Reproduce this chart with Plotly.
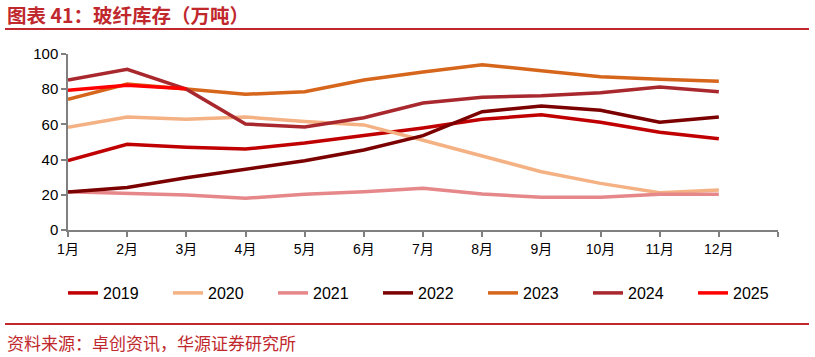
import plotly.graph_objects as go

months = ["1月", "2月", "3月", "4月", "5月", "6月", "7月", "8月", "9月", "10月", "11月", "12月"]
years = ["2019", "2020", "2021", "2022", "2023", "2024", "2025"]

v2019 = [39.4, 48.7, 47.0, 46.0, 49.4, 53.6, 58.0, 62.9, 65.5, 61.2, 55.5, 51.9]
v2020 = [58.3, 64.2, 62.9, 64.2, 61.7, 59.7, 51.0, 42.0, 33.1, 26.5, 21.2, 22.7]
v2021 = [21.8, 20.8, 19.9, 18.0, 20.3, 21.8, 23.7, 20.5, 18.6, 18.6, 20.3, 20.3]
v2022 = [21.6, 24.2, 29.7, 34.5, 39.4, 45.5, 53.6, 67.2, 70.5, 68.0, 61.2, 64.2]
v2023 = [74.2, 82.9, 80.1, 77.1, 78.6, 85.2, 89.8, 93.9, 90.5, 87.1, 85.6, 84.5]
v2024 = [85.2, 91.3, 80.0, 60.2, 58.5, 63.8, 72.2, 75.4, 76.3, 78.0, 81.3, 78.6]
v2025 = [79.4, 82.2, 80.3]

series = [v2019, v2020, v2021, v2022, v2023, v2024, v2025]
colors = ["#C00000", "#F4B183", "#E6878A", "#7B0000", "#D6661C", "#A8282E", "#FF0000"]

y_ticks = [0, 20, 40, 60, 80, 100]

W, H = 815, 357
L, R, T, B = 68, 778, 54, 230

def px(x):
    return (x - L) / (R - L)

def py(y):
    return (B - y) / (B - T)

fig = go.Figure()
for name, vals, c in zip(years, series, colors):
    xs = list(range(len(vals)))
    fig.add_trace(go.Scatter(x=xs, y=vals, name=name, mode="lines",
                             line=dict(color=c, width=3.5)))

font_family = "Liberation Sans, Arial, Noto Sans CJK SC, sans-serif"
red = "#C0282D"

fig.update_layout(
    width=W, height=H,
    margin=dict(l=L, r=W - R, t=T, b=H - B, autoexpand=False),
    paper_bgcolor="white", plot_bgcolor="white",
    font=dict(family=font_family, size=13, color="#000000"),
    showlegend=True,
    legend=dict(orientation="h", x=px(63), xanchor="left", y=py(293), yanchor="middle",
                font=dict(size=16, color="#000000"), entrywidth=60, entrywidthmode="pixels",
                bgcolor="rgba(0,0,0,0)", tracegroupgap=0),
    xaxis=dict(range=[0, 12], tickmode="array", tickvals=list(range(len(months) + 1)),
               ticktext=months + [""], showgrid=False, zeroline=False,
               showline=True, linecolor="#808080", linewidth=1.5,
               ticks="outside", ticklen=5, tickcolor="#808080", tickwidth=1.5,
               tickfont=dict(size=14, color="#000000")),
    yaxis=dict(range=[0, 100], tickmode="array", tickvals=y_ticks,
               showgrid=False, zeroline=False,
               showline=True, linecolor="#808080", linewidth=1.5,
               ticks="outside", ticklen=5, tickcolor="#808080", tickwidth=1.5,
               tickfont=dict(size=15, color="#000000")),
)

fig.add_annotation(text="<b>图表 41：玻纤库存（万吨）</b>", xref="paper", yref="paper",
                   x=px(5), y=py(15), xanchor="left", yanchor="middle", showarrow=False,
                   font=dict(family="Noto Sans CJK SC, sans-serif", size=19.5, color=red))
fig.add_annotation(text="资料来源：卓创资讯，华源证券研究所", xref="paper", yref="paper",
                   x=px(5), y=py(342), xanchor="left", yanchor="middle", showarrow=False,
                   font=dict(family="Noto Sans CJK SC, sans-serif", size=17, color=red))
fig.add_shape(type="line", xref="paper", yref="paper", x0=px(5), x1=px(809),
              y0=py(29), y1=py(29), line=dict(color=red, width=2))
fig.add_shape(type="line", xref="paper", yref="paper", x0=px(5), x1=px(809),
              y0=py(324), y1=py(324), line=dict(color=red, width=2))

fig.write_html("out.html", config={"displayModeBar": False},
               post_script="document.body.style.margin='0';")
